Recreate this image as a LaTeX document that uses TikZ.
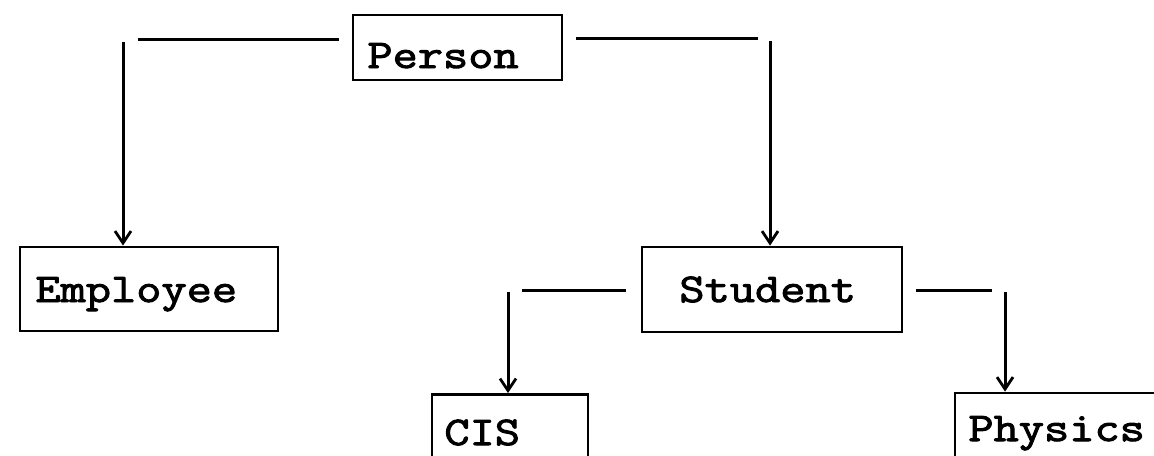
\documentclass[tikz,border=0pt]{standalone}
\usepackage{fontspec}
\newfontfamily\boxfont{Latin Modern Mono}[FakeStretch=1.2,FakeBold=2.4]
\usetikzlibrary{arrows.meta,calc}
\begin{document}
\begin{tikzpicture}[x=0.5pt,y=-0.5pt,
  box/.style={draw=black, line width=1.4pt, rectangle, inner sep=0pt},
  lbl/.style={anchor=base west, inner sep=0pt, font=\boxfont\fontsize{20.4}{24}\selectfont},
  link/.style={draw=black, line width=1.5pt},
  arrowlink/.style={link, -{Straight Barb[length=6pt,width=8pt,line width=1.4pt]}}]
\useasboundingbox (0,0) rectangle (1154,455);
\fill[white] (0,0) rectangle (1154,455);

% class boxes
\node[box, minimum width=104.5pt, minimum height=32.5pt] (person) at (457.5,47.5) {};
\node[box, minimum width=129pt, minimum height=42pt] (employee) at (149,289)   {};
\node[box, minimum width=130pt, minimum height=42.5pt] (student) at (772,289.5) {};
\node[box, minimum width=78pt, minimum height=38pt] (cis)       at (510,432.5) {};
\node[box, minimum width=105pt, minimum height=38.5pt] (physics) at (1060,431.5) {};

% class names
\node[lbl] (tperson)   at (367,68)  {Person};
\node[lbl] (temployee) at (35,302)  {Employee};
\node[lbl] (tstudent)  at (679,302) {Student};
\node[lbl] (tcis)      at (444,445) {CIS};
\node[lbl] (tphysics)  at (968,441) {Physics};

% elbow points of the connectors
\coordinate (eL) at (123,39);
\coordinate (eR) at (770,38);
\coordinate (eC) at (508,290);
\coordinate (eP) at (1005,290);

% Person -> Employee / Student
\draw[link] ($(person.west |- eL)+(-13,0)$) -- ($(eL)+(15,0)$);
\draw[arrowlink] ($(eL)+(0,3)$) -- (employee.north -| eL);
\draw[link] ($(person.east |- eR)+(13,0)$) -- ($(eR)+(-12,0)$);
\draw[arrowlink] ($(eR)+(0,3)$) -- (student.north -| eR);

% Student -> CIS / Physics
\draw[link] ($(student.west |- eC)+(-15,0)$) -- ($(eC)+(14,0)$);
\draw[arrowlink] ($(eC)+(0,2)$) -- (cis.north -| eC);
\draw[link] ($(student.east |- eP)+(13,0)$) -- ($(eP)+(-13,0)$);
\draw[arrowlink] ($(eP)+(0,2)$) -- (physics.north -| eP);
\end{tikzpicture}
\end{document}
